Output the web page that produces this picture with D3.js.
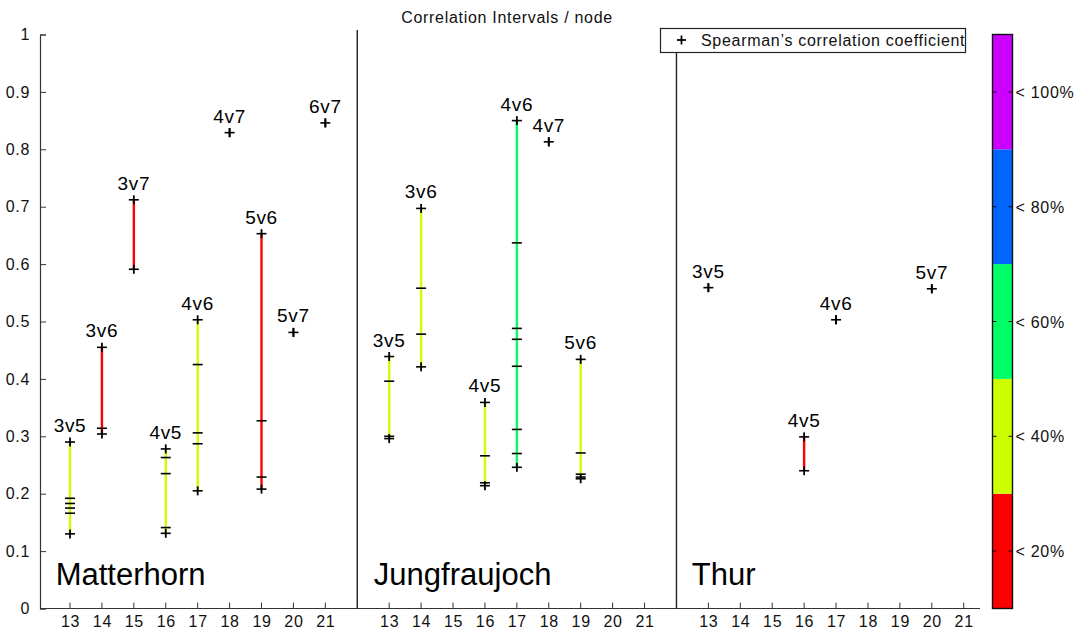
<!DOCTYPE html>
<html>
<head>
<meta charset="utf-8">
<script src="https://cdn.jsdelivr.net/npm/d3@7"></script>
<style>
  html, body { margin: 0; padding: 0; background: #fff; }
  svg { display: block; font-family: "Liberation Sans", Arial, Helvetica, sans-serif; }
  .small { font-size: 16px; letter-spacing: 0.7px; }
</style>
</head>
<body>
<svg id="chart" width="1078" height="634"></svg>
<script>
// ---------------- DATA ----------------
const title = "Correlation Intervals / node";
const legendLabel = "Spearman\u2019s correlation coefficient";
const panelNames = ["Matterhorn", "Jungfraujoch", "Thur"];
const nodeTicks = [13, 14, 15, 16, 17, 18, 19, 20, 21];
const yTicks = [0, 0.1, 0.2, 0.3, 0.4, 0.5, 0.6, 0.7, 0.8, 0.9, 1];
const bandColors = ["#ff0000", "#ccff00", "#00ff66", "#0066ff", "#cc00ff"];
const bandLabels = ["< 20%", "< 40%", "< 60%", "< 80%", "< 100%"];
const bandTicks = [20, 40, 60, 80, 100];

// level = colour band index (0 = <20%, 1 = <40%, 2 = <60%)
const matterhorn = [
  { node: 13, label: "3v5", level: 1, values: [0.290, 0.192, 0.183, 0.175, 0.166, 0.130] },
  { node: 14, label: "3v6", level: 0, values: [0.455, 0.314, 0.304] },
  { node: 15, label: "3v7", level: 0, values: [0.712, 0.591] },
  { node: 16, label: "4v5", level: 1, values: [0.278, 0.263, 0.235, 0.141, 0.131] },
  { node: 17, label: "4v6", level: 1, values: [0.503, 0.425, 0.306, 0.287, 0.205] },
  { node: 18, label: "4v7", level: null, values: [0.829] },
  { node: 19, label: "5v6", level: 0, values: [0.653, 0.327, 0.229, 0.208] },
  { node: 20, label: "5v7", level: null, values: [0.481] },
  { node: 21, label: "6v7", level: null, values: [0.846] }
];
const jungfraujoch = [
  { node: 13, label: "3v5", level: 1, values: [0.439, 0.396, 0.300, 0.296] },
  { node: 14, label: "3v6", level: 1, values: [0.697, 0.558, 0.478, 0.421] },
  { node: 16, label: "4v5", level: 1, values: [0.359, 0.266, 0.219, 0.214] },
  { node: 17, label: "4v6", level: 2, values: [0.850, 0.637, 0.488, 0.469, 0.422, 0.312, 0.270, 0.246] },
  { node: 18, label: "4v7", level: null, values: [0.813] },
  { node: 19, label: "5v6", level: 1, values: [0.434, 0.271, 0.234, 0.229, 0.226] }
];
const thur = [
  { node: 13, label: "3v5", level: null, values: [0.559] },
  { node: 16, label: "4v5", level: 0, values: [0.299, 0.240] },
  { node: 17, label: "4v6", level: null, values: [0.503] },
  { node: 20, label: "5v7", level: null, values: [0.557] }
];
const panelData = [matterhorn, jungfraujoch, thur];

// ---------------- DRAW ----------------
const svg = d3.select("#chart");
const plotLeft = 40, plotRight = 980, plotTop = 34.5, plotBottom = 608.5;

// continuous axis: panel p, node n -> p*10 + n
const x = d3.scaleLinear().domain([12.06, 41.51]).range([plotLeft, plotRight]);
const y = d3.scaleLinear().domain([0, 1]).range([plotBottom, plotTop]);

// title
svg.append("text").attr("class", "small")
  .attr("x", 507).attr("y", 23).attr("text-anchor", "middle")
  .attr("fill", "#111").text(title);

// y axis
const yAxis = d3.axisLeft(y).tickValues(yTicks).tickSize(-6).tickPadding(10)
  .tickFormat(d => String(+d.toFixed(1)));
const gy = svg.append("g").attr("transform", `translate(${plotLeft},0)`).call(yAxis);
gy.select(".domain").attr("stroke", "#333").attr("stroke-width", 1.2);
gy.selectAll(".tick line").attr("stroke", "#333");
gy.selectAll(".tick text").attr("class", "small").attr("fill", "#111")
  .style("font-size", "16px").style("letter-spacing", "0.7px");

// x axis: baseline
svg.append("line")
  .attr("x1", plotLeft).attr("x2", plotRight)
  .attr("y1", plotBottom).attr("y2", plotBottom)
  .attr("stroke", "#333").attr("stroke-width", 1.2);

const panelLabelOffset = [12.55, 12.52, 12.48];
panelNames.forEach((name, p) => {
  const g = svg.append("g");
  nodeTicks.forEach(n => {
    const xx = x(p * 10 + n);
    g.append("line").attr("x1", xx).attr("x2", xx)
      .attr("y1", plotBottom).attr("y2", plotBottom - 6)
      .attr("stroke", "#333").attr("stroke-width", 1);
    g.append("text").attr("class", "small")
      .attr("x", xx + 0.5).attr("y", 627).attr("text-anchor", "middle")
      .attr("fill", "#111").text(n);
  });
  if (p > 0) {
    const xd = x(p * 10 + 12);
    g.append("line").attr("x1", xd).attr("x2", xd)
      .attr("y1", y(1) - 4.5).attr("y2", plotBottom)
      .attr("stroke", "#222").attr("stroke-width", 1.4);
  }
  g.append("text")
    .attr("x", x(p * 10 + panelLabelOffset[p])).attr("y", 585)
    .attr("font-size", 31).attr("fill", "#000").text(name);
});

// data marks
panelData.forEach((items, p) => {
  const g = svg.append("g");
  items.forEach(d => {
    const xx = x(p * 10 + d.node);
    const vmax = d3.max(d.values), vmin = d3.min(d.values);
    if (d.values.length > 1 && d.level !== null) {
      g.append("line").attr("x1", xx).attr("x2", xx)
        .attr("y1", y(vmax)).attr("y2", y(vmin))
        .attr("stroke", bandColors[d.level]).attr("stroke-width", 2.4);
    }
    d.values.forEach(v => {
      g.append("line").attr("x1", xx - 5).attr("x2", xx + 5)
        .attr("y1", y(v)).attr("y2", y(v))
        .attr("stroke", "#000").attr("stroke-width", 1.6);
    });
    [vmax, vmin].forEach(v => {
      g.append("line").attr("x1", xx).attr("x2", xx)
        .attr("y1", y(v) - 4.5).attr("y2", y(v) + 4.5)
        .attr("stroke", "#000").attr("stroke-width", 1.8);
    });
    g.append("text")
      .attr("x", xx).attr("y", y(vmax) - 10).attr("text-anchor", "middle")
      .attr("font-size", 19).style("letter-spacing", "0.7px")
      .attr("fill", "#000").text(d.label);
  });
});

// legend
const lg = svg.append("g");
lg.append("rect").attr("x", 660.5).attr("y", 28.5).attr("width", 305).attr("height", 24)
  .attr("fill", "#fff").attr("stroke", "#222").attr("stroke-width", 1.2);
lg.append("line").attr("x1", 677).attr("x2", 686).attr("y1", 40).attr("y2", 40)
  .attr("stroke", "#000").attr("stroke-width", 1.8);
lg.append("line").attr("x1", 681.5).attr("x2", 681.5).attr("y1", 35.5).attr("y2", 44.5)
  .attr("stroke", "#000").attr("stroke-width", 1.8);
lg.append("text").attr("class", "small")
  .attr("x", 701).attr("y", 46).attr("fill", "#111").text(legendLabel);

// colorbar
const cb = svg.append("g");
const cbLeft = 992.5, cbWidth = 20;
const yc = d3.scaleLinear().domain([10, 110]).range([plotBottom, plotTop]);
bandColors.forEach((c, i) => {
  const lo = 10 + i * 20, hi = lo + 20;
  cb.append("rect").attr("x", cbLeft).attr("y", yc(hi))
    .attr("width", cbWidth).attr("height", yc(lo) - yc(hi))
    .attr("fill", c);
});
cb.append("rect").attr("x", cbLeft).attr("y", yc(110))
  .attr("width", cbWidth).attr("height", yc(10) - yc(110))
  .attr("fill", "none").attr("stroke", "#111").attr("stroke-width", 1.4);
bandTicks.forEach((t, i) => {
  const yy = yc(t);
  cb.append("line").attr("x1", cbLeft).attr("x2", cbLeft + 4).attr("y1", yy).attr("y2", yy)
    .attr("stroke", "#111").attr("stroke-width", 1);
  cb.append("line").attr("x1", cbLeft + cbWidth - 4).attr("x2", cbLeft + cbWidth).attr("y1", yy).attr("y2", yy)
    .attr("stroke", "#111").attr("stroke-width", 1);
  cb.append("text").attr("class", "small")
    .attr("x", cbLeft + cbWidth + 3).attr("y", yy + 6)
    .attr("fill", "#111").text(bandLabels[i]);
});
</script>
</body>
</html>
